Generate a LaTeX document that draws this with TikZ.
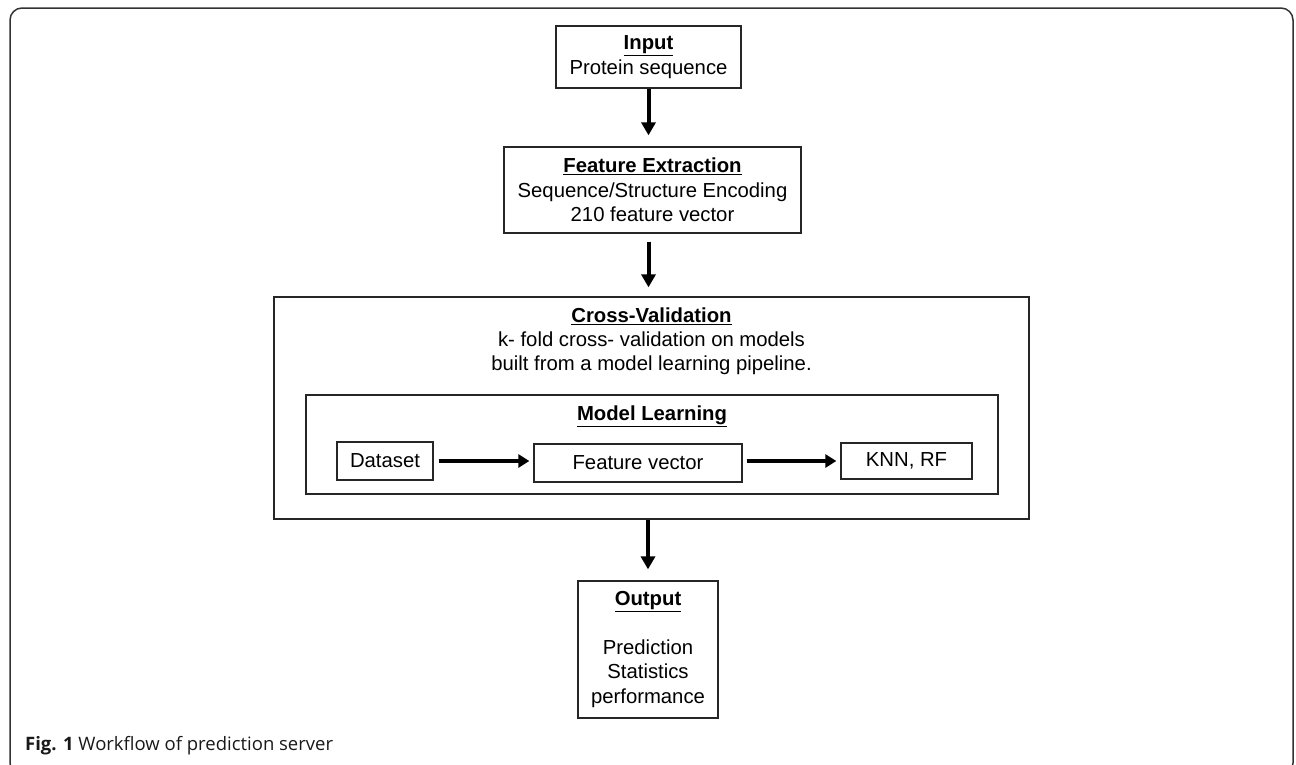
\documentclass[tikz,border=0pt]{standalone}
\usepackage{fontspec}
\setmainfont{Liberation Sans}
\newfontfamily\capfont{Open Sans}
\usetikzlibrary{arrows.meta}
\begin{document}
\begin{tikzpicture}[
        x=1pt, y=-1pt,
        box/.style={draw=black!85, line width=1.3pt, inner sep=0pt, align=center,
            font=\fontsize{20.3}{24.5}\selectfont},
        txt/.style={inner sep=0pt, align=center, font=\fontsize{20.3}{24}\selectfont},
        flow/.style={line width=4pt, -{Triangle[length=13pt,width=14pt]}},
        sideflow/.style={line width=3.8pt, -{Triangle[length=11pt,width=13pt]}},
    ]
    \useasboundingbox (0,0) rectangle (1296,764);
    % frame round the figure
    \draw [black!80, line width=1.5pt, rounded corners=12pt] (10,8) rectangle (1293,775);

    \node [box, minimum width=185pt, minimum height=62pt] (input) at (648.5,57)
        {\underline{\textbf{Input}}\\Protein sequence};
    \node [box, minimum width=297pt, minimum height=86pt] (fe) at (652.5,190)
        {\underline{\textbf{Feature Extraction}}\\Sequence/Structure Encoding\\210 feature vector};

    % cross-validation with the learning pipeline inside
    \node [box, minimum width=755pt, minimum height=222pt] (cv) at (651.5,408) {};
    \node [txt, anchor=north] (cvtext) at (651.5,308)
        {\underline{\textbf{Cross-Validation}}\\k- fold cross- validation on models\\built from a model learning pipeline.};
    \node [box, minimum width=692pt, minimum height=99pt] (ml) at (652,444.5) {};
    \node [txt, anchor=north] (mltext) at (652,406) {\underline{\textbf{Model Learning}}};
    \node [box, minimum width=96pt, minimum height=38pt] (ds) at (385,461) {Dataset};
    \node [box, minimum width=208pt, minimum height=38pt] (fv) at (638,463) {Feature vector};
    \node [box, minimum width=131pt, minimum height=36pt] (knn) at (906.5,461) {KNN, RF};

    \node [box, minimum width=140pt, minimum height=137pt] (output) at (648,649.5)
        {\underline{\textbf{Output}}\\[24.5pt]Prediction\\Statistics\\performance};

    \draw [flow, shorten >=11pt] (input.south) -- (input.south |- fe.north);
    \draw [flow, shorten <=8pt, shorten >=9pt] (input.south |- fe.south) -- (input.south |- cv.north);
    \draw [flow, shorten >=11pt] (output.north |- cv.south) -- (output.north);
    \draw [sideflow, shorten <=5pt, shorten >=4pt] (ds.east) -- (ds.east -| fv.west);
    \draw [sideflow, shorten <=4pt, shorten >=4pt] (knn.west -| fv.east) -- (knn.west);

    \node [anchor=base west, inner sep=0pt, text=black!90, font=\capfont\fontsize{18.5}{22}\selectfont]
        (caption) at (25,750) {\textbf{Fig. 1} Workflow of prediction server};
\end{tikzpicture}
\end{document}
